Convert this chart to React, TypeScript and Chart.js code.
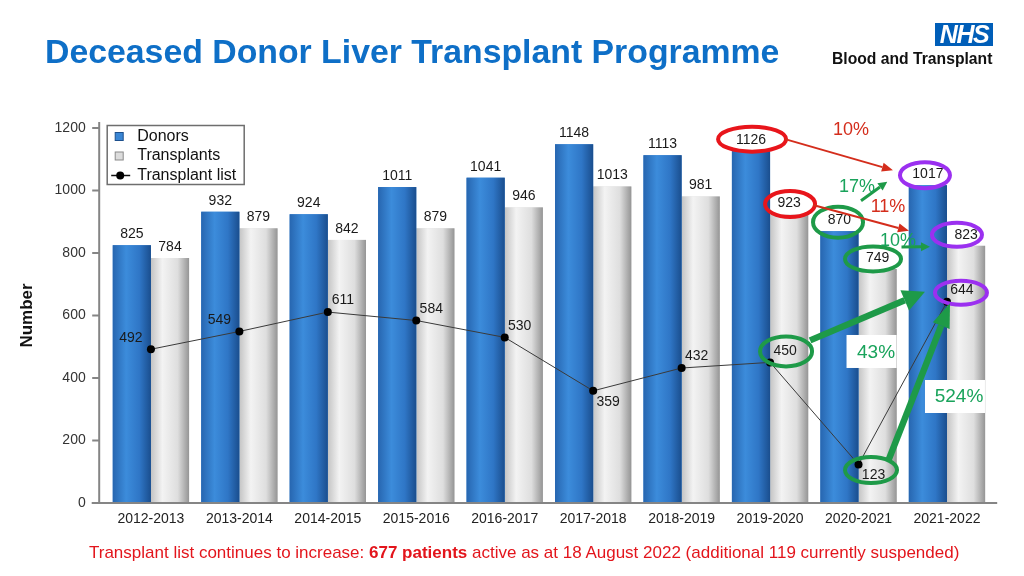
import React, { useEffect, useRef } from 'react';
import { Chart, registerables } from 'chart.js';

Chart.register(...registerables);

const FONT = "'Liberation Sans', Arial, Helvetica, sans-serif";

const categories = ['2012-2013', '2013-2014', '2014-2015', '2015-2016', '2016-2017', '2017-2018', '2018-2019', '2019-2020', '2020-2021', '2021-2022'];
const donors = [825, 932, 924, 1011, 1041, 1148, 1113, 1126, 870, 1017];
const transplants = [784, 879, 842, 879, 946, 1013, 981, 923, 749, 823];
const transplantList = [492, 549, 611, 584, 530, 359, 432, 450, 123, 644];
const listLabelPlacement = ['left', 'left', 'right', 'right', 'right', 'below', 'right', 'right', 'below', 'right'];
const yTicks = [0, 200, 400, 600, 800, 1000, 1200];
const yTickLabels = ['0', '200', '400', '600', '800', '1000', '1200'];
const seriesNames = ['Donors', 'Transplants', 'Transplant list'];

const BLUE_STOPS: [number, string][] = [[0, '#2766b0'], [0.35, '#3c8cdb'], [0.7, '#2f76c6'], [1, '#1a4e8e']];
const GRAY_STOPS: [number, string][] = [[0, '#c4c4c4'], [0.3, '#f3f3f3'], [0.7, '#dedede'], [1, '#959595']];

const RED = '#e8151b';
const RED_ARROW = '#d42d1c';
const GREEN = '#1e9a48';
const GREEN_TEXT = '#19a35b';
const PURPLE = '#9b30f0';

function drawArrow(ctx: CanvasRenderingContext2D, x1: number, y1: number, x2: number, y2: number, lw: number, hl: number, hw: number, color: string) {
  const a = Math.atan2(y2 - y1, x2 - x1);
  const bx = x2 - hl * Math.cos(a);
  const by = y2 - hl * Math.sin(a);
  ctx.save();
  ctx.strokeStyle = color;
  ctx.lineWidth = lw;
  ctx.lineCap = 'butt';
  ctx.beginPath();
  ctx.moveTo(x1, y1);
  ctx.lineTo(bx, by);
  ctx.stroke();
  ctx.fillStyle = color;
  ctx.beginPath();
  ctx.moveTo(x2, y2);
  ctx.lineTo(bx + (hw / 2) * Math.sin(a), by - (hw / 2) * Math.cos(a));
  ctx.lineTo(bx - (hw / 2) * Math.sin(a), by + (hw / 2) * Math.cos(a));
  ctx.closePath();
  ctx.fill();
  ctx.restore();
}

function drawEllipse(ctx: CanvasRenderingContext2D, cx: number, cy: number, rx: number, ry: number, color: string) {
  ctx.save();
  ctx.strokeStyle = color;
  ctx.lineWidth = 4;
  ctx.beginPath();
  ctx.ellipse(cx, cy, rx, ry, 0, 0, Math.PI * 2);
  ctx.stroke();
  ctx.restore();
}

const barGradientPlugin = {
  id: 'barGradient',
  afterDatasetDraw(chart: any, args: any) {
    const meta = args.meta;
    if (meta.type !== 'bar') return;
    const ctx: CanvasRenderingContext2D = chart.ctx;
    const stops = meta.index === 0 ? BLUE_STOPS : GRAY_STOPS;
    ctx.save();
    meta.data.forEach((el: any) => {
      const { x, y, base, width } = el.getProps(['x', 'y', 'base', 'width'], true);
      const left = x - width / 2;
      const g = ctx.createLinearGradient(left, 0, left + width, 0);
      stops.forEach(([o, c]) => g.addColorStop(o, c));
      ctx.fillStyle = g;
      ctx.fillRect(left, y, width, base - y);
    });
    ctx.restore();
  },
};

const axesPlugin = {
  id: 'axesLines',
  beforeDatasetsDraw(chart: any) {
    const ctx: CanvasRenderingContext2D = chart.ctx;
    const { left, bottom, top } = chart.chartArea;
    const yScale = chart.scales.y;
    const ax = left - 7.5;
    ctx.save();
    ctx.strokeStyle = '#858585';
    ctx.lineWidth = 2;
    ctx.beginPath();
    ctx.moveTo(ax, top - 6);
    ctx.lineTo(ax, bottom);
    ctx.stroke();
    yTicks.forEach((v) => {
      const py = yScale.getPixelForValue(v);
      ctx.beginPath();
      ctx.moveTo(ax - 7, py);
      ctx.lineTo(ax, py);
      ctx.stroke();
    });
    ctx.restore();
  },
  afterDatasetsDraw(chart: any) {
    const ctx: CanvasRenderingContext2D = chart.ctx;
    const { left, right, bottom } = chart.chartArea;
    ctx.save();
    ctx.strokeStyle = '#858585';
    ctx.lineWidth = 2;
    ctx.beginPath();
    ctx.moveTo(left - 15, bottom);
    ctx.lineTo(right + 6, bottom);
    ctx.stroke();
    ctx.restore();
  },
};

const labelsPlugin = {
  id: 'valueLabels',
  afterDatasetsDraw(chart: any) {
    const ctx: CanvasRenderingContext2D = chart.ctx;
    ctx.save();
    ctx.font = `14px ${FONT}`;
    ctx.fillStyle = '#1a1a1a';
    ctx.textAlign = 'center';
    ctx.textBaseline = 'middle';
    [0, 1].forEach((di) => {
      const meta = chart.getDatasetMeta(di);
      const values = di === 0 ? donors : transplants;
      meta.data.forEach((el: any, i: number) => {
        ctx.fillText(String(values[i]), el.x, el.y - 11);
      });
    });
    const lmeta = chart.getDatasetMeta(2);
    lmeta.data.forEach((el: any, i: number) => {
      const p = listLabelPlacement[i];
      const dx = p === 'left' ? -20 : 15;
      const dy = p === 'below' ? 11 : -11.5;
      ctx.fillText(String(transplantList[i]), el.x + dx, el.y + dy);
    });
    ctx.restore();
  },
};

const legendPlugin = {
  id: 'boxLegend',
  afterDraw(chart: any) {
    const ctx: CanvasRenderingContext2D = chart.ctx;
    const { left, top } = chart.chartArea;
    const bx = left + 0.5;
    const by = top - 2.5;
    ctx.save();
    ctx.fillStyle = '#ffffff';
    ctx.fillRect(bx, by, 137, 59);
    ctx.strokeStyle = '#6e6e6e';
    ctx.lineWidth = 1.5;
    ctx.strokeRect(bx, by, 137, 59);
    const rows = [by + 11, by + 30.5, by + 50];
    ctx.fillStyle = '#3a86d4';
    ctx.fillRect(bx + 8, rows[0] - 4, 8, 8);
    ctx.strokeStyle = '#1d4f8c';
    ctx.lineWidth = 1;
    ctx.strokeRect(bx + 8, rows[0] - 4, 8, 8);
    ctx.fillStyle = '#dcdcdc';
    ctx.fillRect(bx + 8, rows[1] - 4, 8, 8);
    ctx.strokeStyle = '#8a8a8a';
    ctx.strokeRect(bx + 8, rows[1] - 4, 8, 8);
    ctx.strokeStyle = '#111';
    ctx.lineWidth = 1.5;
    ctx.beginPath();
    ctx.moveTo(bx + 4, rows[2]);
    ctx.lineTo(bx + 23, rows[2]);
    ctx.stroke();
    ctx.fillStyle = '#000';
    ctx.beginPath();
    ctx.arc(bx + 13, rows[2], 4, 0, Math.PI * 2);
    ctx.fill();
    ctx.fillStyle = '#111';
    ctx.font = `16px ${FONT}`;
    ctx.textAlign = 'left';
    ctx.textBaseline = 'middle';
    seriesNames.forEach((n, i) => ctx.fillText(n, bx + 30, rows[i]));
    ctx.restore();
  },
};

const annotationPlugin = {
  id: 'annotations',
  afterDraw(chart: any) {
    const ctx: CanvasRenderingContext2D = chart.ctx;
    const xs = chart.scales.x;
    const ys = chart.scales.y;
    const X = (i: number) => xs.getPixelForValue(i);
    const Y = (v: number) => ys.getPixelForValue(v);
    const c7 = X(7), c8 = X(8), c9 = X(9);

    drawEllipse(ctx, c7 - 18, Y(donors[7]) - 12, 34, 12.5, RED);
    drawEllipse(ctx, c7 + 20, Y(transplants[7]) - 10.5, 25, 13, RED);
    drawEllipse(ctx, c8 - 20.5, Y(donors[8]) - 9, 25, 15.5, GREEN);
    drawEllipse(ctx, c8 + 14.5, Y(transplants[8]) - 10, 28, 12.5, GREEN);
    drawEllipse(ctx, c9 - 22, Y(donors[9]) - 10, 25, 13, PURPLE);
    drawEllipse(ctx, c9 + 10, Y(transplants[9]) - 11, 25, 12, PURPLE);
    drawEllipse(ctx, c9 + 14, Y(transplantList[9]) - 9, 26, 12, PURPLE);
    drawEllipse(ctx, c7 + 16, Y(transplantList[7]) - 11, 26, 15, GREEN);
    drawEllipse(ctx, c8 + 12.5, Y(transplantList[8]) + 5.5, 26, 13, GREEN);

    drawArrow(ctx, c7 + 15, Y(donors[7]) - 12, c9 - 54, Y(donors[9]) - 15, 2, 11, 9, RED_ARROW);
    drawArrow(ctx, c7 + 43, Y(transplants[7]) - 9.6, c9 - 38, Y(transplants[9]) - 15, 2, 11, 9, RED_ARROW);
    drawArrow(ctx, c8 + 2.5, Y(donors[9]) + 15.5, c9 - 59.7, Y(donors[9]) - 3.5, 3, 9, 9, GREEN);
    drawArrow(ctx, c8 + 43, Y(transplants[8]) - 22, c9 - 17, Y(transplants[9]) + 1, 3, 9, 9, GREEN);
    drawArrow(ctx, c7 + 40, Y(transplantList[7]) - 22, c9 - 22, Y(transplantList[9]) - 10, 6.5, 22, 22, GREEN);
    drawArrow(ctx, c8 + 30, Y(transplantList[8]) - 4.5, c9 + 3, Y(transplantList[9]) + 1.5, 6.5, 24, 18, GREEN);

    ctx.save();
    ctx.textAlign = 'center';
    ctx.textBaseline = 'middle';
    ctx.font = `18px ${FONT}`;
    ctx.fillStyle = RED_ARROW;
    ctx.fillText('10%', c8 - 7.5, Y(donors[7]) - 21);
    ctx.fillText('11%', c9 - 59, Y(transplants[7]) - 7.6);
    ctx.fillStyle = GREEN_TEXT;
    ctx.fillText('17%', c8 - 1.5, Y(donors[9]) + 2);
    ctx.fillText('10%', c9 - 49, Y(transplants[9]) - 5);
    ctx.fillStyle = '#ffffff';
    ctx.fillRect(c8 - 12, Y(transplantList[7]) - 27.4, 50, 33);
    ctx.fillRect(c9 - 22, Y(400) + 2, 60, 33);
    ctx.font = `19px ${FONT}`;
    ctx.fillStyle = GREEN_TEXT;
    ctx.fillText('43%', c8 + 17.5, Y(transplantList[7]) - 9.4);
    ctx.fillText('524%', c9 + 12, Y(400) + 19);
    ctx.restore();
  },
};

export default function App() {
  const canvasRef = useRef<HTMLCanvasElement | null>(null);

  useEffect(() => {
    if (!canvasRef.current) return;
    Chart.defaults.font.family = FONT;
    const chart = new Chart(canvasRef.current, {
      type: 'bar',
      data: {
        labels: categories,
        datasets: [
          { label: seriesNames[0], data: donors, backgroundColor: '#3a86d4', borderWidth: 0, order: 1 },
          { label: seriesNames[1], data: transplants, backgroundColor: '#dcdcdc', borderWidth: 0, order: 1 },
          {
            type: 'line' as any,
            label: seriesNames[2],
            data: transplantList,
            borderColor: '#3a3a3a',
            borderWidth: 1,
            pointRadius: 4,
            pointBackgroundColor: '#000',
            pointBorderColor: '#000',
            pointBorderWidth: 0,
            tension: 0,
            fill: false,
            order: 0,
          } as any,
        ],
      },
      options: {
        responsive: false,
        animation: false,
        events: [],
        layout: { padding: { left: 16.7, right: 32.8, top: 128, bottom: 43 } },
        datasets: { bar: { categoryPercentage: 0.863, barPercentage: 1 } } as any,
        plugins: { legend: { display: false }, tooltip: { enabled: false } },
        scales: {
          x: {
            grid: { display: false, drawTicks: false },
            border: { display: false },
            ticks: { padding: 8, color: '#222', font: { size: 14 }, maxRotation: 0, autoSkip: false },
            afterFit: (s: any) => { s.height = 30; },
          },
          y: {
            min: 0,
            max: 1200,
            grid: { display: false, drawTicks: false },
            border: { display: false },
            afterBuildTicks: (s: any) => { s.ticks = yTicks.map((v) => ({ value: v })); },
            ticks: {
              padding: 21,
              color: '#333',
              font: { size: 14 },
              callback: (v: any) => {
                const idx = yTicks.indexOf(Number(v));
                return idx >= 0 ? yTickLabels[idx] : String(v);
              },
            },
            title: { display: true, text: 'Number', color: '#111', font: { size: 17, weight: 'bold' }, padding: 0 },
            afterFit: (s: any) => { s.width = 90; },
          },
        },
      } as any,
      plugins: [axesPlugin, barGradientPlugin, labelsPlugin, annotationPlugin, legendPlugin],
    });
    return () => chart.destroy();
  }, []);

  return (
    <div style={{ position: 'absolute', left: 0, top: 0, width: 1024, height: 576, background: '#fff', overflow: 'hidden', fontFamily: FONT }}>
      <canvas ref={canvasRef} width={1024} height={576} style={{ position: 'absolute', left: 0, top: 0, display: 'block' }} />
      <div style={{ position: 'absolute', left: 45, top: 35, fontSize: 33.8, lineHeight: '33.8px', fontWeight: 'bold', color: '#0e6fc7', whiteSpace: 'nowrap' }}>
        Deceased Donor Liver Transplant Programme
      </div>
      <div style={{ position: 'absolute', left: 935, top: 23, width: 58, height: 23, background: '#005eb8', color: '#fff', fontWeight: 'bold', fontStyle: 'italic', fontSize: 25, lineHeight: '23px', textAlign: 'center', letterSpacing: -1.5, whiteSpace: 'nowrap' }}>
        NHS
      </div>
      <div style={{ position: 'absolute', left: 832, top: 51, fontSize: 15.7, lineHeight: '15.7px', fontWeight: 'bold', color: '#111', whiteSpace: 'nowrap' }}>
        Blood and Transplant
      </div>
      <div style={{ position: 'absolute', left: 89, top: 544, fontSize: 17, lineHeight: '17px', color: '#e3151c', whiteSpace: 'nowrap' }}>
        Transplant list continues to increase: <b>677 patients</b> active as at 18 August 2022 (additional 119 currently suspended)
      </div>
    </div>
  );
}
